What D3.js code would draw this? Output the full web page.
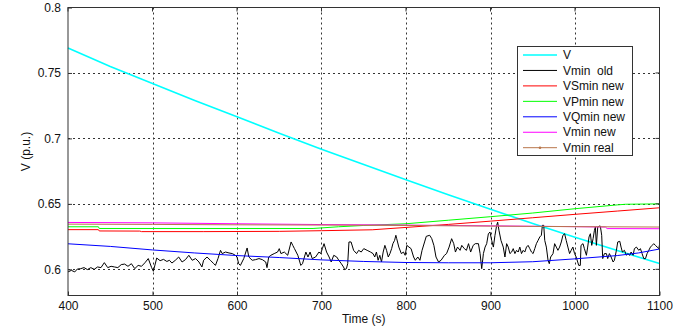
<!DOCTYPE html>
<html>
<head>
<meta charset="utf-8">
<script src="https://cdn.jsdelivr.net/npm/d3@7"></script>
<style>
  html, body { margin: 0; padding: 0; background: #fff; }
  svg { display: block; font-family: "Liberation Sans", Arial, sans-serif; }
</style>
</head>
<body>
<svg id="chart" width="684" height="329"></svg>
<script>
// Axis ticks
const timeTicks = [400, 500, 600, 700, 800, 900, 1000, 1100];
const voltTicks = [0.6, 0.65, 0.7, 0.75, 0.8];

// Legend labels, in drawing order
const seriesNames = ["V", "Vmin  old", "VSmin new", "VPmin new", "VQmin new", "Vmin new", "Vmin real"];
const seriesColors = ["#00ffff", "#000000", "#ff0000", "#00ff00", "#0000ff", "#ff00ff", "#b8764a"];

// Bus voltage V (p.u.) over time (s)
const vCurve = [
  [400, 0.7690], [450, 0.7550], [500, 0.7420], [550, 0.7290], [600, 0.7165],
  [650, 0.7040], [700, 0.6918], [750, 0.6800], [800, 0.6684], [850, 0.6570],
  [900, 0.6458], [950, 0.6350], [1000, 0.6245], [1050, 0.6143], [1100, 0.6045]
];

// Old minimum voltage estimate (noisy)
const vminOld = [
  [400, 0.5980], [404, 0.5992], [408, 0.5980], [411, 0.6002], [415, 0.6005], [419, 0.6013],
  [423, 0.5998], [427, 0.6013], [431, 0.6000], [435, 0.6018], [439, 0.6013], [443, 0.6051],
  [447, 0.6013], [451, 0.6023], [455, 0.6018], [459, 0.6013], [463, 0.6036], [467, 0.6040],
  [471, 0.6023], [475, 0.6043], [479, 0.6005], [483, 0.6030], [487, 0.6023], [491, 0.6050],
  [495, 0.6082], [499, 0.6013], [501, 0.5985], [505, 0.6086], [509, 0.6066], [513, 0.6076],
  [517, 0.6060], [520, 0.6069], [523, 0.6048], [527, 0.6069], [531, 0.6094], [535, 0.6056],
  [539, 0.6074], [543, 0.6107], [547, 0.6069], [551, 0.6082], [555, 0.6056], [558.5, 0.6018],
  [560.5, 0.6069], [564.5, 0.6094], [568.5, 0.6069], [572.5, 0.6043], [574.5, 0.6030],
  [577.5, 0.6082], [580.5, 0.6145], [582.5, 0.6120], [586.5, 0.6132], [590.5, 0.6125],
  [594.5, 0.6120], [598, 0.6107], [600, 0.6094], [602, 0.6043], [604, 0.6030], [608, 0.6082],
  [612, 0.6163], [614, 0.6094], [618, 0.6069], [622, 0.6074], [626, 0.6082], [630, 0.6074],
  [634, 0.6056], [635.5, 0.6013], [637.5, 0.6094], [640, 0.6107], [644, 0.6120], [648, 0.6132],
  [650, 0.6158], [652, 0.6120], [656, 0.6132], [660, 0.6107], [664, 0.6209], [666, 0.6183],
  [668, 0.6158], [672, 0.6107], [675.5, 0.6030], [677.5, 0.6043], [681.5, 0.6132], [684, 0.6094],
  [686.5, 0.6132], [689, 0.6082], [693, 0.6094], [697, 0.6132], [699, 0.6120], [701, 0.6158],
  [703, 0.6196], [706, 0.6132], [709, 0.6094], [711.5, 0.6056], [714.5, 0.6107], [718, 0.6094],
  [720.5, 0.6069], [723.5, 0.6043], [726, 0.6018], [727.5, 0.5998], [729.5, 0.6005], [731, 0.6043],
  [732.5, 0.6209], [735, 0.6209], [738, 0.6145], [741.5, 0.6120], [744, 0.6145], [747, 0.6132],
  [750, 0.6158], [754, 0.6145], [758, 0.6132], [761, 0.6120], [763, 0.6094], [765, 0.6132],
  [767, 0.6069], [769, 0.6107], [771, 0.6056], [773, 0.6132], [775, 0.6183], [777, 0.6145],
  [779, 0.6094], [781, 0.6120], [783, 0.6158], [784.5, 0.6196], [786.5, 0.6221], [788, 0.6260],
  [789, 0.6234], [791.5, 0.6170], [794.5, 0.6120], [797, 0.6132], [799, 0.6107], [801, 0.6183],
  [803.5, 0.6170], [806, 0.6158], [809, 0.6094], [811, 0.6069], [814, 0.6094], [816.5, 0.6069],
  [819, 0.6145], [822, 0.6209], [824, 0.6252], [828, 0.6260], [830.5, 0.6234], [833, 0.6183],
  [835.5, 0.6094], [838.5, 0.6056], [841.5, 0.6069], [845.5, 0.6107], [848, 0.6120], [851, 0.6170],
  [854, 0.6234], [856.5, 0.6196], [858.5, 0.6132], [861, 0.6170], [864, 0.6145], [866, 0.6183],
  [869, 0.6158], [871.5, 0.6145], [874, 0.6196], [876.5, 0.6132], [879.5, 0.6183], [882, 0.6196],
  [885.7, 0.6196], [887.7, 0.6120], [889.6, 0.6005], [891.6, 0.6120], [893.6, 0.6170],
  [895.5, 0.6196], [897.5, 0.6272], [899.4, 0.6285], [901.4, 0.6221], [903.4, 0.6170],
  [905.3, 0.6260], [907.3, 0.6336], [908.5, 0.6360], [910, 0.6298], [912.4, 0.6221],
  [915.1, 0.6170], [917.1, 0.6094], [919.1, 0.6196], [921, 0.6170], [923, 0.6120], [925, 0.6132],
  [926.9, 0.6158], [928.9, 0.6120], [930.8, 0.6145], [932.8, 0.6132], [934.7, 0.6170],
  [936.7, 0.6120], [938.7, 0.6145], [940.6, 0.6132], [942.6, 0.6170], [944.5, 0.6183],
  [946.5, 0.6158], [948.5, 0.6132], [950.4, 0.6120], [952.4, 0.6158], [954.3, 0.6196],
  [956.3, 0.6221], [958.3, 0.6247], [960.2, 0.6260], [961.4, 0.6336], [963, 0.6336],
  [964.2, 0.6221], [966.1, 0.6170], [968.1, 0.6069], [969.6, 0.6043], [971.2, 0.6094],
  [974, 0.6120], [975.9, 0.6196], [977.9, 0.6170], [979.8, 0.6145], [981.8, 0.6170],
  [983.8, 0.6209], [985.7, 0.6260], [987.7, 0.6272], [989.6, 0.6221], [991.6, 0.6170],
  [993.6, 0.6120], [995.5, 0.6145], [997.5, 0.6170], [999.5, 0.6120], [1001.4, 0.6094],
  [1004.4, 0.6030], [1006.3, 0.6030], [1007.1, 0.6183], [1009.5, 0.6196], [1011.1, 0.6158],
  [1013.5, 0.6107], [1015, 0.6170], [1016.6, 0.6247], [1018.2, 0.6272], [1019.8, 0.6183],
  [1021.4, 0.6234], [1023, 0.6298], [1024.1, 0.6323], [1025.3, 0.6183], [1026.9, 0.6323],
  [1028.5, 0.6330], [1030, 0.6330], [1031.6, 0.6260], [1032.8, 0.6082], [1034.8, 0.6120],
  [1037.2, 0.6120], [1038.7, 0.6082], [1040.7, 0.6120], [1042.7, 0.6094], [1045.1, 0.6056],
  [1046.6, 0.6069], [1049, 0.6145], [1050.6, 0.6209], [1053, 0.6214], [1054.5, 0.6170],
  [1056.1, 0.6132], [1058.5, 0.6145], [1060.9, 0.6107], [1062.4, 0.6120], [1064.8, 0.6107],
  [1066.4, 0.6132], [1068.8, 0.6107], [1070.3, 0.6158], [1072.7, 0.6170], [1075.5, 0.6145],
  [1077.4, 0.6158], [1079.4, 0.6120], [1081.4, 0.6082], [1083.4, 0.6082], [1085.3, 0.6120],
  [1087.3, 0.6145], [1089.3, 0.6170], [1091.3, 0.6183], [1093.2, 0.6196], [1095.2, 0.6183],
  [1097.2, 0.6170], [1099.2, 0.6158], [1100, 0.6188]
];

// New minimum voltage estimates (S, P, Q based)
const vsminNew = [
  [400, 0.6303], [436, 0.6303], [437, 0.6293], [485, 0.6292], [487, 0.6288], [560, 0.6288],
  [650, 0.6290], [700, 0.6295], [760, 0.6302], [800, 0.6320], [850, 0.6343], [900, 0.6368],
  [950, 0.6394], [1000, 0.6420], [1050, 0.6445], [1100, 0.6470]
];
const vpminNew = [
  [400, 0.6325], [436, 0.6325], [437, 0.6312], [690, 0.6312], [720, 0.6325], [750, 0.6335],
  [800, 0.6348], [850, 0.6375], [900, 0.6402], [950, 0.6430], [1000, 0.6463], [1050, 0.6492],
  [1060, 0.6497], [1100, 0.6500]
];
const vqminNew = [
  [400, 0.6195], [450, 0.6175], [500, 0.6148], [550, 0.6125], [600, 0.6105], [650, 0.6090],
  [700, 0.6072], [750, 0.6060], [800, 0.6052], [850, 0.6050], [900, 0.6050], [950, 0.6058],
  [1000, 0.6080], [1050, 0.6105], [1075, 0.6125], [1100, 0.6155]
];
const vminNew = [
  [400, 0.6358], [500, 0.6355], [600, 0.6348], [700, 0.6342], [800, 0.6338], [900, 0.6332],
  [1000, 0.6326], [1036, 0.6323], [1038, 0.6311], [1100, 0.6310]
];
const vminReal = [
  [400, 0.6345], [500, 0.6343], [600, 0.6340], [700, 0.6338], [800, 0.6335], [900, 0.6330],
  [1000, 0.6326], [1100, 0.6323]
];

const allSeries = [vCurve, vminOld, vsminNew, vpminNew, vqminNew, vminNew, vminReal];
const widths = [1.6, 1, 1, 1, 1, 1, 1];

const svg = d3.select("#chart");
const plotLeft = 68, plotRight = 659.5, plotTop = 7.5, plotBottom = 295.5;

const x = d3.scaleLinear().domain([400, 1100]).range([plotLeft, plotRight]);
const y = d3.scaleLinear().domain([0.58, 0.8]).range([plotBottom, plotTop]);

// Dotted grid
const grid = svg.append("g").attr("stroke", "#333").attr("stroke-dasharray", "2,3").attr("stroke-width", 1);
grid.selectAll("line.gx").data(timeTicks.filter(t => t > 400 && t < 1100)).join("line")
  .attr("x1", d => Math.round(x(d)) + 0.5).attr("x2", d => Math.round(x(d)) + 0.5)
  .attr("y1", plotTop).attr("y2", plotBottom);
grid.selectAll("line.gy").data(voltTicks.filter(v => v < 0.8)).join("line")
  .attr("y1", d => Math.round(y(d)) + 0.5).attr("y2", d => Math.round(y(d)) + 0.5)
  .attr("x1", plotLeft).attr("x2", plotRight);

// Data lines
const line = d3.line().x(d => x(d[0])).y(d => y(d[1]));
const plot = svg.append("g");
allSeries.forEach((s, i) => {
  plot.append("path").datum(s)
    .attr("fill", "none")
    .attr("stroke", seriesColors[i])
    .attr("stroke-width", widths[i])
    .attr("stroke-linejoin", "round")
    .attr("d", line);
});

// Axes with inward ticks
const xAxis = d3.axisBottom(x).tickValues(timeTicks).tickSizeInner(-4).tickSizeOuter(0).tickPadding(5)
  .tickFormat(d3.format("d"));
const yAxis = d3.axisLeft(y).tickValues(voltTicks).tickSizeInner(-4).tickSizeOuter(0).tickPadding(7)
  .tickFormat(d => String(d));

const gx = svg.append("g").attr("transform", `translate(0,${plotBottom})`).call(xAxis);
const gy = svg.append("g").attr("transform", `translate(${plotLeft},0)`).call(yAxis);
[gx, gy].forEach(g => {
  g.selectAll("text").attr("font-size", 12).attr("fill", "#111")
    .attr("font-family", "Liberation Sans, Arial, sans-serif");
  g.selectAll("line").attr("stroke", "#333");
  g.select(".domain").remove();
});
gx.selectAll("text").attr("dy", "0.8em");

// Top/right ticks
svg.append("g").selectAll("line").data(timeTicks).join("line")
  .attr("x1", d => x(d)).attr("x2", d => x(d)).attr("y1", plotTop).attr("y2", plotTop + 4).attr("stroke", "#333");
svg.append("g").selectAll("line").data(voltTicks).join("line")
  .attr("y1", d => y(d)).attr("y2", d => y(d)).attr("x1", plotRight).attr("x2", plotRight - 4).attr("stroke", "#333");

// Frame
svg.append("rect").attr("x", plotLeft).attr("y", plotTop)
  .attr("width", plotRight - plotLeft).attr("height", plotBottom - plotTop)
  .attr("fill", "none").attr("stroke", "#333").attr("stroke-width", 1);

// Axis titles
svg.append("text").attr("x", (plotLeft + plotRight) / 2).attr("y", 323).attr("text-anchor", "middle")
  .attr("font-size", 12).attr("fill", "#111").text("Time (s)");
svg.append("text").attr("transform", `translate(30,${(plotTop + plotBottom) / 2}) rotate(-90)`)
  .attr("text-anchor", "middle").attr("font-size", 12).attr("fill", "#111").text("V (p.u.)");

// Legend
const lg = svg.append("g");
lg.append("rect").attr("x", 517.5).attr("y", 46.5).attr("width", 115).attr("height", 109)
  .attr("fill", "#fff").attr("stroke", "#333").attr("stroke-width", 1);
seriesNames.forEach((name, i) => {
  const ry = 55 + i * 15.45;
  lg.append("line").attr("x1", 523).attr("x2", 557).attr("y1", ry).attr("y2", ry)
    .attr("stroke", seriesColors[i]).attr("stroke-width", widths[i]);
  if (i === seriesNames.length - 1) {
    lg.append("circle").attr("cx", 540).attr("cy", ry).attr("r", 1.3).attr("fill", seriesColors[i]);
  }
  lg.append("text").attr("x", 563).attr("y", ry).attr("dy", "0.35em")
    .attr("font-size", 12).attr("fill", "#111").style("white-space", "pre").text(name);
});
</script>
</body>
</html>
